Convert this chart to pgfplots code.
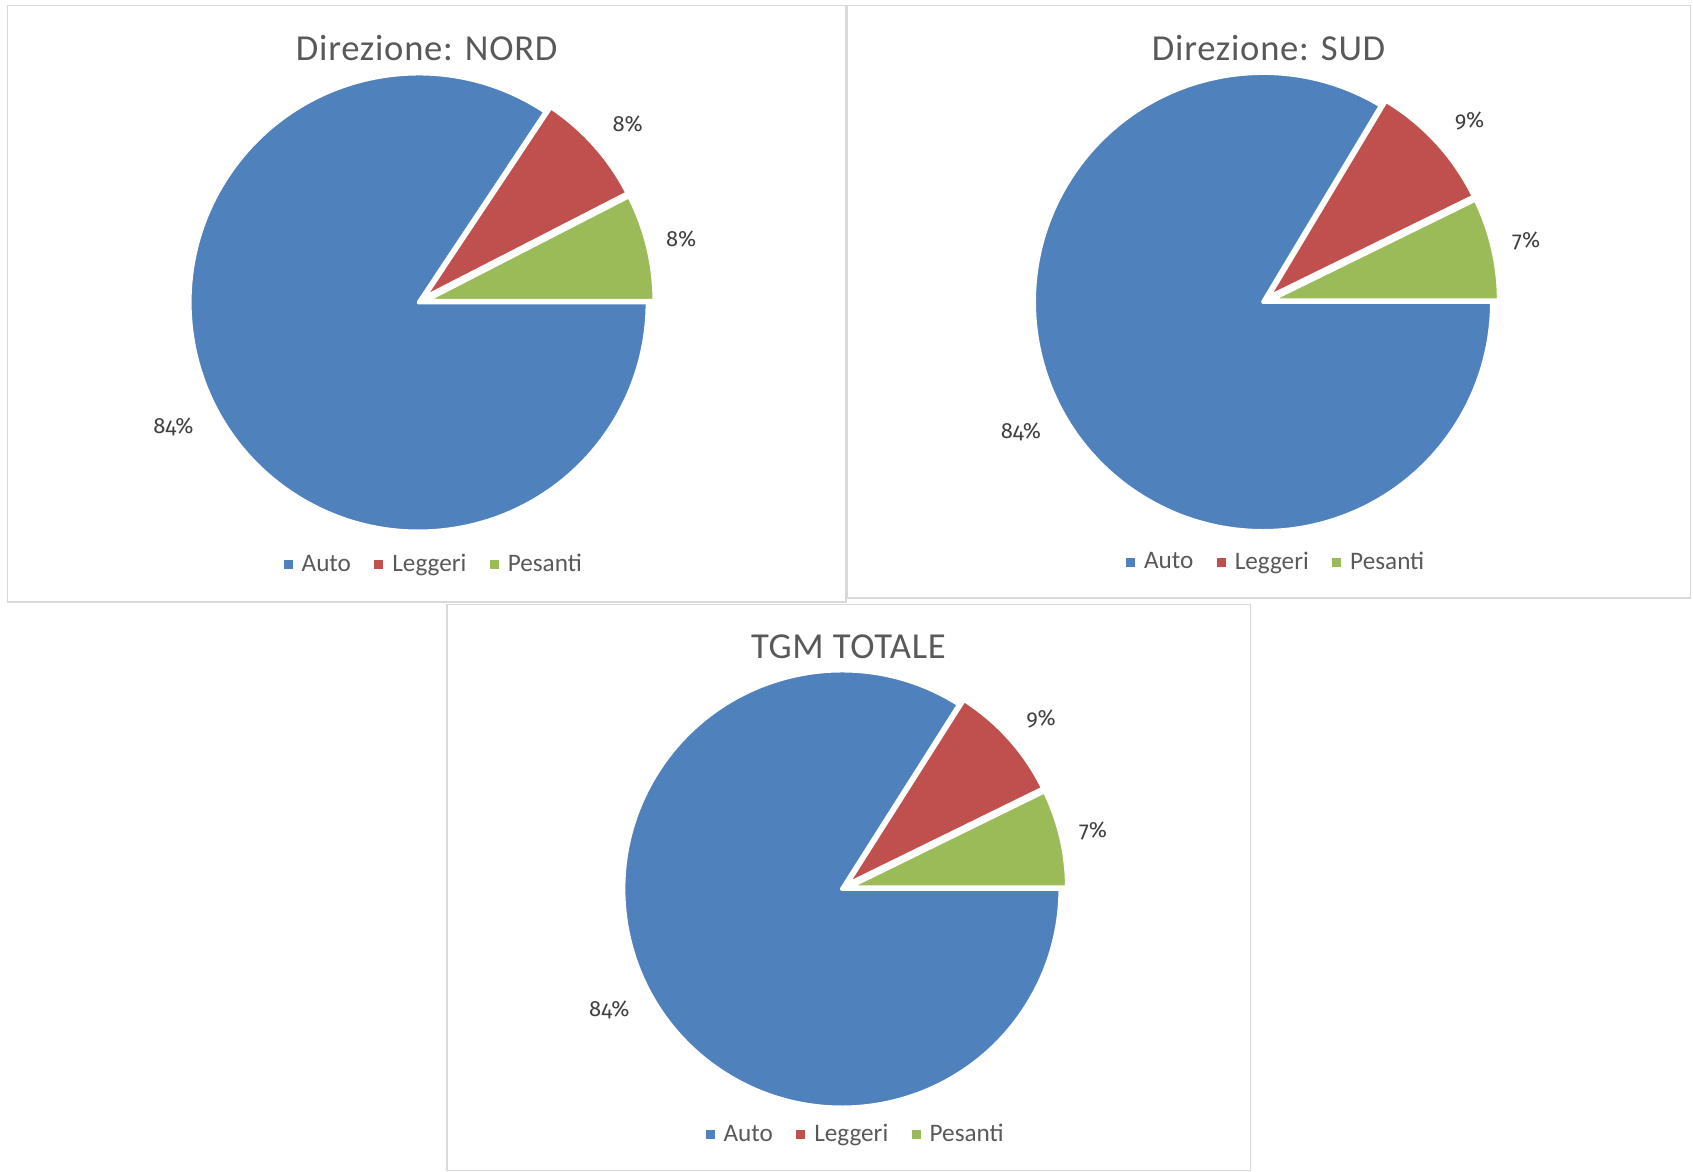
\documentclass[border=0pt]{standalone}
\usepackage{fontspec}
\setmainfont{Carlito}
\newfontfamily\titlefam{Carlito}[LetterSpace=2]
\newfontfamily\numfam{Fira Sans}[Numbers=OldStyle]
\usepackage{pgfplots}
\usepackage{pgfplotstable}
\pgfplotsset{compat=1.18}
\pgfkeys{/pgf/number format/assume math mode=true}

\definecolor{autoblue}{HTML}{4F81BD}
\definecolor{legred}{HTML}{C0504D}
\definecolor{pesgreen}{HTML}{9BBB59}
\definecolor{textgray}{HTML}{595959}
\definecolor{labelgray}{HTML}{404040}
\definecolor{framegray}{HTML}{D9D9D9}

% shares of the traffic (%), one table per direction
\pgfplotstableread{
categoria valore
Auto      84.35
Leggeri   8.10
Pesanti   7.55
}\nordtab
\pgfplotstableread{
categoria valore
Auto      83.60
Leggeri   9.15
Pesanti   7.25
}\sudtab
\pgfplotstableread{
categoria valore
Auto      84.00
Leggeri   8.75
Pesanti   7.25
}\totaletab

\newcommand\titlefont{\titlefam\fontsize{18.3pt}{21pt}\selectfont}
\newcommand\legfont{\fontsize{12.6pt}{15pt}\selectfont}
\newcommand\labfont{\numfam\fontsize{11pt}{13pt}\selectfont}

% copy one value of a table into a global macro
\newcommand\getval[3]{\pgfplotstablegetelem{#2}{valore}\of{#1}\xdef#3{\pgfplotsretval}}

% one pie slice: #1,#2 centre, #3 radius, #4 explosion, #5 start angle, #6 end angle, #7 colour
\newcommand\slice[7]{%
  \draw[fill=#7, draw=white, line width=2pt, line join=round,
        shift={({((#5)+(#6))/2}:{(#4)*0.5pt})}]
    (axis cs:#1,#2) -- ++({#5}:{(#3)*0.5pt})
    arc[start angle={#5}, end angle={#6}, radius={(#3)*0.5pt}] -- cycle;}

% percentage label near a slice: #1,#2 centre, #3 distance, #4 angle, #5 value
\newcommand\pielabel[5]{%
  \node[font=\labfont, text=labelgray, inner sep=0pt,
        shift={({#4}:{(#3)*0.5pt})}] at (axis cs:#1,#2)
    {\pgfmathprintnumber[fixed,precision=0]{#5}\%};}

% whole pie: #1 prefix of the value macros, #2,#3 centre, #4 radius, #5 explosion
\newcommand\drawpie[5]{%
  \slice{#2}{#3}{#4}{0}{3.6*(\csname #1P\endcsname+\csname #1L\endcsname)}{360}{autoblue}
  \slice{#2}{#3}{#4}{#5}{3.6*\csname #1P\endcsname}{3.6*(\csname #1P\endcsname+\csname #1L\endcsname)}{legred}
  \slice{#2}{#3}{#4}{#5}{0}{3.6*\csname #1P\endcsname}{pesgreen}
  \pielabel{#2}{#3}{1.2*(#4)}{(3.6*(\csname #1P\endcsname+\csname #1L\endcsname)+360)/2-1.3}{\csname #1A\endcsname}
  \pielabel{#2}{#3}{1.2*(#4)}{1.8*(2*\csname #1P\endcsname+\csname #1L\endcsname)-1.3}{\csname #1L\endcsname}
  \pielabel{#2}{#3}{1.18*(#4)}{1.8*\csname #1P\endcsname}{\csname #1P\endcsname}}

\pgfplotsset{
  legsq/.style={legend image code/.code={\fill[##1, draw=none] (0pt,-2.25pt) rectangle (4.5pt,2.25pt);}},
  pannello/.style={
    x=0.5pt, y=0.5pt, xmin=0, xmax=1693, ymin=0, ymax=1172,
    hide axis, clip=false, anchor=south west, at={(0pt,0pt)},
    legend style={draw=none, fill=none, font=\legfont, text=textgray,
      legend columns=-1, anchor=center, inner sep=0pt, nodes={inner sep=0pt},
      /tikz/every odd column/.append style={column sep=4.5pt},
      /tikz/every even column/.append style={column sep=11.7pt}},
  },
}

\begin{document}
\begin{tikzpicture}
\path[use as bounding box] (0pt,0pt) rectangle (846.5pt,586pt);

\getval\nordtab{0}\nordA \getval\nordtab{1}\nordL \getval\nordtab{2}\nordP
\getval\sudtab{0}\sudA \getval\sudtab{1}\sudL \getval\sudtab{2}\sudP
\getval\totaletab{0}\totA \getval\totaletab{1}\totL \getval\totaletab{2}\totP

% Direzione NORD
\begin{axis}[pannello, legend style={at={(0.2556,0.5183)}}]
  \draw[framegray, line width=0.75pt] (axis cs:7.7,1166.3) rectangle (axis cs:846,570.2);
  \node[anchor=base, font=\titlefont, text=textgray] at (axis cs:426.7,1111.3) {Direzione: NORD};
  \drawpie{nord}{418.6}{869.5}{229}{7}
  \addlegendimage{legsq, fill=autoblue}\addlegendentry{Auto}
  \addlegendimage{legsq, fill=legred}\addlegendentry{Leggeri}
  \addlegendimage{legsq, fill=pesgreen}\addlegendentry{Pesanti}
\end{axis}

% Direzione SUD
\begin{axis}[pannello, legend style={at={(0.7532,0.5202)}}]
  \draw[framegray, line width=0.75pt] (axis cs:847.3,1166.3) rectangle (axis cs:1690.7,573.8);
  \node[anchor=base, font=\titlefont, text=textgray] at (axis cs:1268.6,1111.3) {Direzione: SUD};
  \drawpie{sud}{1263}{870}{229}{7}
  \addlegendimage{legsq, fill=autoblue}\addlegendentry{Auto}
  \addlegendimage{legsq, fill=legred}\addlegendentry{Leggeri}
  \addlegendimage{legsq, fill=pesgreen}\addlegendentry{Pesanti}
\end{axis}

% TGM totale
\begin{axis}[pannello, legend style={at={(0.5048,0.0319)}}]
  \draw[framegray, line width=0.75pt] (axis cs:447,567.5) rectangle (axis cs:1250.3,1.5);
  \node[anchor=base, font=\titlefont, text=textgray] at (axis cs:848.5,513) {TGM TOTALE};
  \drawpie{tot}{841.9}{283}{218.5}{6.7}
  \addlegendimage{legsq, fill=autoblue}\addlegendentry{Auto}
  \addlegendimage{legsq, fill=legred}\addlegendentry{Leggeri}
  \addlegendimage{legsq, fill=pesgreen}\addlegendentry{Pesanti}
\end{axis}
\end{tikzpicture}
\end{document}
